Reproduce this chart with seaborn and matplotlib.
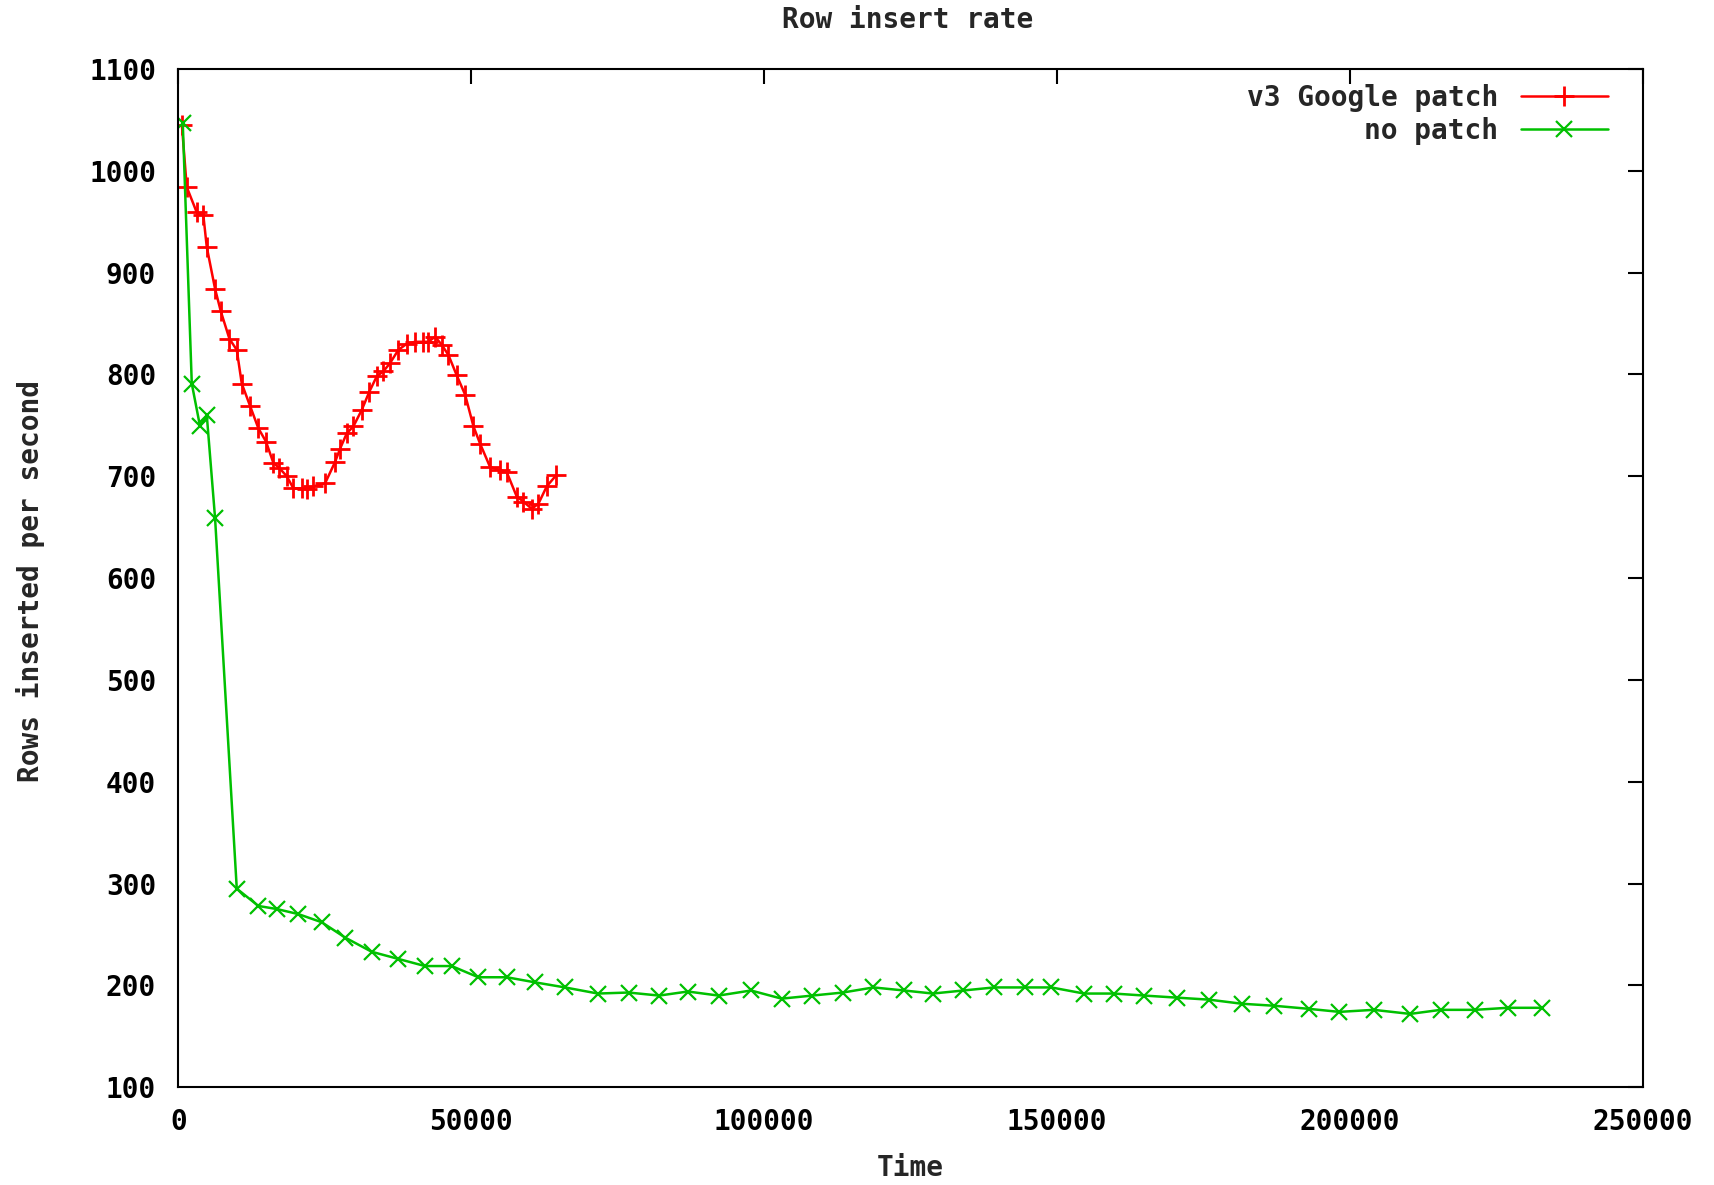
import matplotlib
matplotlib.use("Agg")
import matplotlib.pyplot as plt
import seaborn as sns
import pandas as pd

# ---- data ----
patch_time = [600, 1430, 3140, 4270, 4850, 6265, 7240, 8710, 9970, 10820,
              12240, 13660, 14960, 16220, 17240, 18500, 19640, 21060, 21910, 23050,
              25040, 26750, 27600, 28740, 29880, 31300, 32600, 33860, 35000, 36130,
              37550, 38980, 40400, 41820, 42680, 43820, 44960, 46100, 47520, 48950,
              50370, 51500, 53210, 54920, 56050, 57760, 58900, 60320, 61460, 62880,
              64500]
patch_rate = [1045, 984, 959, 956, 925, 884, 862, 835, 824, 791,
              769, 747, 734, 713, 708, 700, 688, 688, 687, 690,
              693, 714, 727, 742, 749, 765, 783, 798, 803, 811,
              824, 830, 832, 832, 832, 837, 829, 819, 799, 780,
              749, 732, 709, 706, 704, 680, 675, 668, 673, 690,
              701]

nopatch_time = [750, 2290, 3700, 4850, 6265, 9970, 13660, 16800, 20490, 24480,
                28460, 33010, 37550, 42100, 46650, 51200, 56050, 60880, 66000, 71610,
                76850, 82070, 86970, 92200, 97740, 102970, 108200, 113430, 118650, 123880,
                128780, 134000, 139240, 144460, 149020, 154590, 159700, 164900, 170400, 175960,
                181510, 187060, 192940, 198170, 204040, 210250, 215480, 221350, 226910, 232790]
nopatch_rate = [1047, 791, 749, 760, 659, 295, 278, 275, 270, 262,
                247, 233, 226, 219, 219, 208, 208, 203, 198, 192,
                193, 190, 194, 190, 195, 187, 190, 193, 198, 195,
                192, 195, 198, 198, 198, 192, 192, 190, 188, 186,
                182, 180, 177, 174, 176, 172, 176, 176, 178, 178]

series_names = ["v3 Google patch", "no patch"]
x_ticks = [0, 50000, 100000, 150000, 200000, 250000]
y_ticks = [100, 200, 300, 400, 500, 600, 700, 800, 900, 1000, 1100]

title = "Row insert rate"
xlabel = "Time"
ylabel = "Rows inserted per second"

# ---- plotting ----
sns.set_style("white")
plt.rcParams['font.family'] = ['DejaVu Sans Mono', 'DejaVu Sans']
plt.rcParams['font.weight'] = 'bold'
FS = 20

fig = plt.figure(figsize=(17.15, 11.85), dpi=100)
ax = fig.add_axes([0.104, 0.0825, 0.854, 0.8594])

df1 = pd.DataFrame({"t": patch_time, "r": patch_rate})
df2 = pd.DataFrame({"t": nopatch_time, "r": nopatch_rate})

sns.lineplot(data=df1, x="t", y="r", ax=ax, color="#ff0000", lw=1.8,
             marker="+", markersize=15, markeredgewidth=2,
             markeredgecolor="#ff0000", label=series_names[0], sort=False)
sns.lineplot(data=df2, x="t", y="r", ax=ax, color="#00c000", lw=1.8,
             marker="x", markersize=12, markeredgewidth=1.6,
             markeredgecolor="#00c000", label=series_names[1], sort=False)

ax.set_xlim(0, 250000)
ax.set_ylim(100, 1100)
ax.set_xticks(x_ticks)
ax.set_xticklabels([str(v) for v in x_ticks])
ax.set_yticks(y_ticks)
ax.set_yticklabels([str(v) for v in y_ticks])

ax.tick_params(axis="both", which="both", direction="in", length=11, width=1.5,
               top=True, right=True, labelsize=FS, colors="black")
ax.tick_params(axis="x", pad=15)
ax.tick_params(axis="y", pad=16)
for lab in ax.get_xticklabels() + ax.get_yticklabels():
    lab.set_fontweight("bold")

for sp in ax.spines.values():
    sp.set_visible(True)
    sp.set_color("black")
    sp.set_linewidth(1.5)

fig.text(0.5294, 1 - 19.7 / 1185, title, fontsize=FS, fontweight="bold",
         ha="center", va="center")
ax.set_xlabel(xlabel, fontsize=FS, fontweight="bold", va="center")
ax.xaxis.set_label_coords(0.5, -0.0793)
ax.set_ylabel(ylabel, fontsize=FS, fontweight="bold", va="center")
ax.yaxis.set_label_coords(-0.1009, 0.497)

leg = ax.legend(loc="upper right", bbox_to_anchor=(0.9762, 0.985),
                frameon=False, markerfirst=False,
                handlelength=3.15, handletextpad=0.8,
                labelspacing=0.16, borderaxespad=0, borderpad=0,
                prop={"weight": "bold", "size": FS})

fig.savefig("out.png", dpi=100, facecolor="white")
